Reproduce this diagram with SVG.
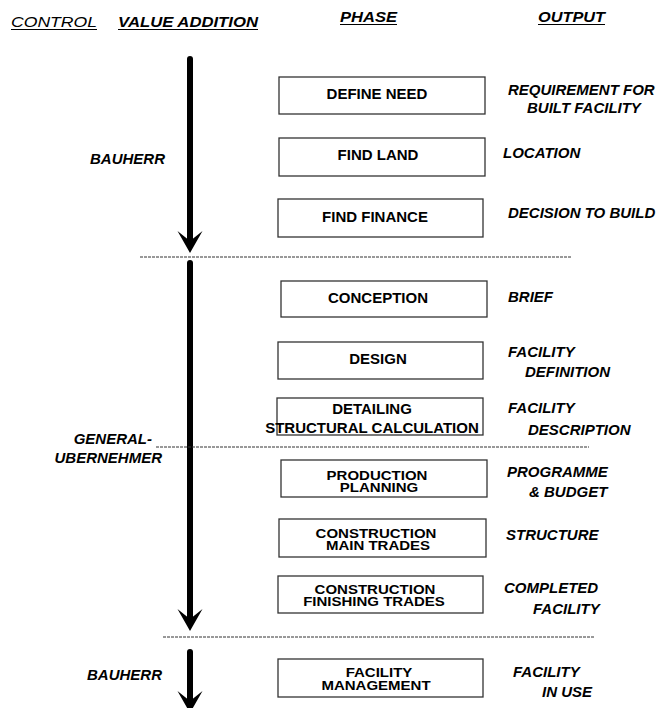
<svg xmlns="http://www.w3.org/2000/svg" width="666" height="708" viewBox="0 0 666 708">
  <style>
    .hdr { font-family: "Liberation Sans", Arial, sans-serif; font-size: 15px; font-style: italic; font-weight: bold; fill: #000; }
    .hdr-thin { font-family: "Liberation Sans", Arial, sans-serif; font-size: 15px; font-style: italic; font-weight: normal; fill: #000; }
    .uline { stroke: #000; stroke-width: 1.2; }
    .box { fill: #fff; stroke: #333; stroke-width: 1.3; }
    .phase { font-family: "Liberation Sans", Arial, sans-serif; font-size: 15px; font-weight: bold; fill: #000; text-anchor: middle; }
    .out { font-family: "Liberation Sans", Arial, sans-serif; font-size: 15px; font-weight: bold; font-style: italic; fill: #000; }
    .ctrl { font-family: "Liberation Sans", Arial, sans-serif; font-size: 15px; font-weight: bold; font-style: italic; fill: #000; text-anchor: end; }
    .shaft { stroke: #000; stroke-width: 6; stroke-linecap: round; fill: none; }
    .sep { stroke: #333; stroke-width: 1; stroke-dasharray: 3 1; fill: none; }
  </style>
  <defs>
    <!-- barbed arrowhead, tip at origin -->
    <path id="head" d="M0,0 L-12.5,-22 L0,-12 L12.5,-22 Z" fill="#000"/>
  </defs>

  <rect width="666" height="708" fill="#fff"/>

  <!-- column headings -->
  <g id="headings">
    <text class="hdr-thin" x="11" y="27" textLength="86" lengthAdjust="spacingAndGlyphs">CONTROL</text>
    <line class="uline" x1="11" y1="29.5" x2="97" y2="29.5"/>
    <text class="hdr" x="118" y="27" textLength="140" lengthAdjust="spacingAndGlyphs">VALUE ADDITION</text>
    <line class="uline" x1="118" y1="29.5" x2="258" y2="29.5"/>
    <text class="hdr" x="340" y="22" textLength="57" lengthAdjust="spacingAndGlyphs">PHASE</text>
    <line class="uline" x1="340" y1="24.5" x2="397" y2="24.5"/>
    <text class="hdr" x="538" y="22" textLength="67" lengthAdjust="spacingAndGlyphs">OUTPUT</text>
    <line class="uline" x1="538" y1="24.5" x2="605" y2="24.5"/>
  </g>

  <!-- value-addition arrows and phase separators -->
  <g id="connectors">
    <line class="shaft" x1="190" y1="59" x2="190" y2="240"/>
    <use href="#head" x="190" y="253"/>
    <line class="shaft" x1="190" y1="263" x2="190" y2="618"/>
    <use href="#head" x="190" y="631"/>
    <line class="shaft" x1="190" y1="652" x2="190" y2="700"/>
    <use href="#head" x="190" y="713"/>
    <line class="sep" x1="140" y1="257" x2="572" y2="257"/>
    <line class="sep" x1="156" y1="447" x2="589" y2="447"/>
    <line class="sep" x1="163" y1="637" x2="595" y2="637"/>
  </g>

  <!-- control parties -->
  <g id="control-bauherr-1"><text class="ctrl" x="165" y="164">BAUHERR</text></g>
  <g id="control-generalubernehmer">
    <text class="ctrl" x="152" y="444">GENERAL-</text>
    <text class="ctrl" x="162" y="463">UBERNEHMER</text>
  </g>
  <g id="control-bauherr-2"><text class="ctrl" x="162" y="680">BAUHERR</text></g>

  <!-- phases -->
  <g id="define-need">
    <rect class="box" x="279" y="77" width="206" height="37"/>
    <text class="phase" x="377" y="99">DEFINE NEED</text>
  </g>
  <g id="find-land">
    <rect class="box" x="279" y="138" width="206" height="38"/>
    <text class="phase" x="378" y="160">FIND LAND</text>
  </g>
  <g id="find-finance">
    <rect class="box" x="278" y="199" width="205" height="38"/>
    <text class="phase" x="375" y="222">FIND FINANCE</text>
  </g>
  <g id="conception">
    <rect class="box" x="281" y="281" width="206" height="36"/>
    <text class="phase" x="378" y="303">CONCEPTION</text>
  </g>
  <g id="design">
    <rect class="box" x="278" y="342" width="205" height="37"/>
    <text class="phase" x="378" y="364">DESIGN</text>
  </g>
  <g id="detailing">
    <rect class="box" x="277" y="398" width="206" height="37"/>
    <text class="phase" x="372" y="414">DETAILING</text>
    <text class="phase" x="372" y="433">STRUCTURAL CALCULATION</text>
  </g>
  <!-- two-line labels are set in vertically squeezed type -->
  <g id="production-planning">
    <rect class="box" x="281" y="460" width="206" height="37"/>
    <g transform="translate(0,480) scale(1,0.8)">
      <text class="phase" x="377" y="0">PRODUCTION</text>
      <text class="phase" x="379" y="15">PLANNING</text>
    </g>
  </g>
  <g id="construction-main">
    <rect class="box" x="279" y="519" width="207" height="38"/>
    <g transform="translate(0,538) scale(1,0.8)">
      <text class="phase" x="376" y="0">CONSTRUCTION</text>
      <text class="phase" x="378" y="15">MAIN TRADES</text>
    </g>
  </g>
  <g id="construction-finishing">
    <rect class="box" x="278" y="576" width="205" height="37"/>
    <g transform="translate(0,594) scale(1,0.8)">
      <text class="phase" x="375" y="0">CONSTRUCTION</text>
      <text class="phase" x="374" y="15">FINISHING TRADES</text>
    </g>
  </g>
  <g id="facility-management">
    <rect class="box" x="278" y="659" width="205" height="38"/>
    <g transform="translate(0,677) scale(1,0.8)">
      <text class="phase" x="379" y="0">FACILITY</text>
      <text class="phase" x="376" y="16">MANAGEMENT</text>
    </g>
  </g>

  <!-- outputs -->
  <g id="outputs">
    <text class="out" x="508" y="95">REQUIREMENT FOR</text>
    <text class="out" x="527" y="113">BUILT FACILITY</text>
    <text class="out" x="503" y="158">LOCATION</text>
    <text class="out" x="508" y="218">DECISION TO BUILD</text>
    <text class="out" x="508" y="302">BRIEF</text>
    <text class="out" x="508" y="357">FACILITY</text>
    <text class="out" x="525" y="377">DEFINITION</text>
    <text class="out" x="508" y="413">FACILITY</text>
    <text class="out" x="528" y="435">DESCRIPTION</text>
    <text class="out" x="507" y="477">PROGRAMME</text>
    <text class="out" x="529" y="497">&amp; BUDGET</text>
    <text class="out" x="506" y="540">STRUCTURE</text>
    <text class="out" x="504" y="593">COMPLETED</text>
    <text class="out" x="533" y="614">FACILITY</text>
    <text class="out" x="513" y="677">FACILITY</text>
    <text class="out" x="542" y="697">IN USE</text>
  </g>
</svg>
